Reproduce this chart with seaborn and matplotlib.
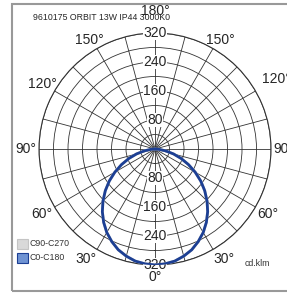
import numpy as np
import pandas as pd
import seaborn as sns
import matplotlib
matplotlib.use("Agg")
import matplotlib.pyplot as plt
from matplotlib.patches import Rectangle

# ---------------- DATA ----------------#
title = "9610175 ORBIT 13W IP44 3000K0"
angles = [0, 5, 10, 15, 20, 25, 30, 35, 40, 45, 50, 55, 60, 65, 70, 75, 80, 85, 90]   # degrees from nadir
c0_c180 = [320, 318, 314, 306, 296, 282, 266, 247, 226, 203, 179, 154, 128, 102, 77, 53, 30, 12, 0]   # cd/klm
c90_c270 = [320, 318, 314, 306, 296, 282, 266, 247, 226, 203, 179, 154, 128, 102, 77, 53, 30, 12, 0]
ring_values = [40, 80, 120, 160, 200, 240, 280, 320]
ring_labels = [80, 160, 240, 320]
series_names = ["C90-C270", "C0-C180"]
unit = "cd.klm"

# ---------------- FIGURE ----------------#
sns.set_theme(style="white")
plt.rcParams["font.family"] = ["Liberation Sans", "DejaVu Sans"]

fig = plt.figure(figsize=(2.87, 2.93), dpi=100)
fig.patch.set_facecolor("white")
ax = fig.add_axes([0.1359, 0.0956, 0.8084, 0.7918], projection="polar")
ax.set_theta_zero_location("S")
ax.set_ylim(0, 320)
ax.set_facecolor("white")


def full_curve(vals):
    # mirror the half curve to both sides of the nadir
    th = np.radians(angles)
    th = np.concatenate([-th[::-1], th[1:]])
    r = np.concatenate([vals[::-1], vals[1:]])
    return pd.DataFrame({"theta": th, "r": r})


d90 = full_curve(c90_c270)
d0 = full_curve(c0_c180)
sns.lineplot(data=d90, x="theta", y="r", sort=False, ax=ax, color="#c8c8c8", lw=2, zorder=4)
sns.lineplot(data=d0, x="theta", y="r", sort=False, ax=ax, color="#1c3f94", lw=2, zorder=5)

ax.set_rgrids(ring_values, labels=[""] * len(ring_values))
ax.set_thetagrids(range(0, 360, 15), labels=[])
ax.grid(True, color="#333333", lw=0.6)
ax.spines["polar"].set_color("#333333")
ax.spines["polar"].set_linewidth(0.8)
ax.set_xlabel("")
ax.set_ylabel("")

# ring labels, up and down the vertical axis
for v in ring_labels:
    for th in (0, np.pi):
        ax.text(th, v, str(v), ha="center", va="center", fontsize=10, zorder=3,
                bbox=dict(facecolor="white", edgecolor="none", pad=0.3))

# angle labels (positive angles = right side)
angle_labels = [(0, 353, "0°"), (32, 358, "30°"), (-32, 358, "30°"),
                (60, 360, "60°"), (-60, 360, "60°"), (90, 356, "90°"),
                (-90, 356, "90°"), (120, 388, "120°"), (-120, 358, "120°"),
                (149, 352, "150°"), (-149, 352, "150°"), (180, 380, "180°")]
for a, r, s in angle_labels:
    ax.text(np.radians(a), r, s, ha="center", va="center", fontsize=10,
            clip_on=False, zorder=6)

# title, legend, unit
fig.text(33 / 287, 1 - 17 / 293, title, fontsize=6.3, va="center", ha="left")
fig.patches.append(Rectangle((17 / 287, 1 - 249 / 293), 11 / 287, 10 / 293,
                             transform=fig.transFigure, facecolor="#d9d9d9",
                             edgecolor="#c4c4c4", lw=0.8))
fig.patches.append(Rectangle((17 / 287, 1 - 263 / 293), 11 / 287, 10 / 293,
                             transform=fig.transFigure, facecolor="#6f93d3",
                             edgecolor="#1c3f94", lw=0.8))
fig.text(30 / 287, 1 - 244 / 293, series_names[0], fontsize=6.3, va="center", color="#333333")
fig.text(30 / 287, 1 - 258 / 293, series_names[1], fontsize=6.3, va="center", color="#333333")
fig.text(245 / 287, 1 - 263 / 293, unit, fontsize=6.3, va="center", color="#333333")

# outer frame
fig.patches.append(Rectangle((12 / 287, 2 / 293), 290 / 287, 287 / 293,
                             transform=fig.transFigure, facecolor="none",
                             edgecolor="#999999", lw=1.5, zorder=10))

fig.savefig("out.png", dpi=100, facecolor="white")
